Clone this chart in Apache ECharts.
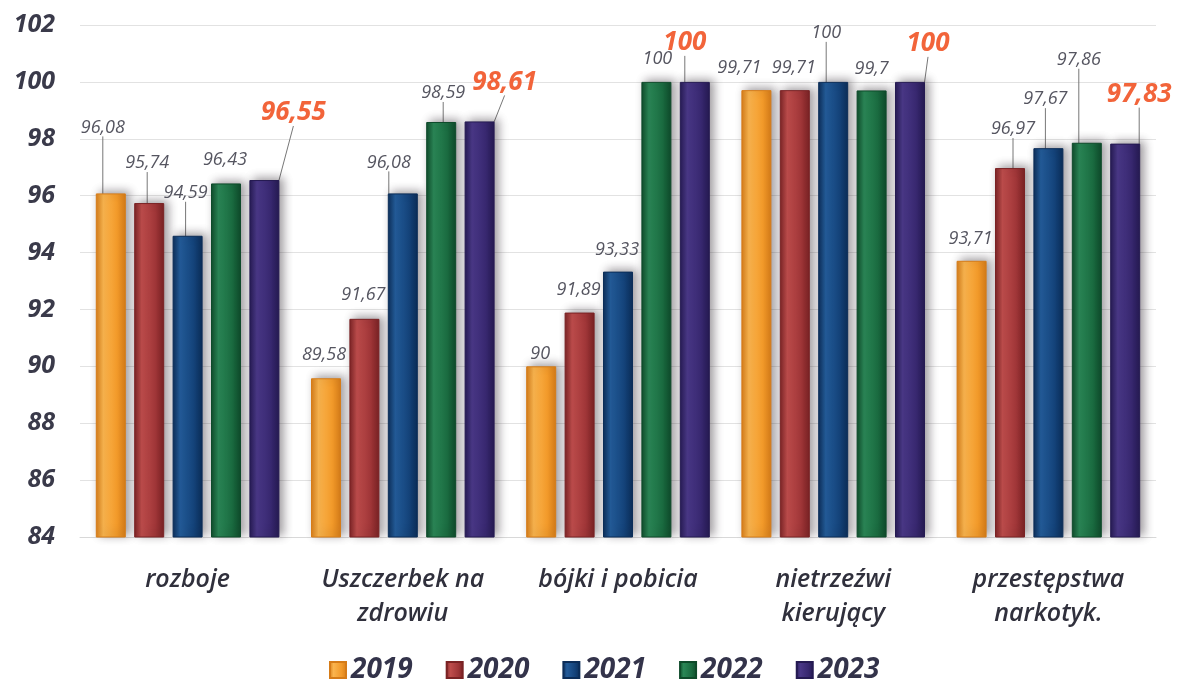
<!DOCTYPE html>
<html><head><meta charset="utf-8">
<script src="https://cdn.jsdelivr.net/npm/echarts@6/dist/echarts.min.js"></script>
<style>html,body{margin:0;padding:0;background:#fff}#c{width:1181px;height:687px}</style>
</head><body><div id="c"></div>
<script>
const categories = ['rozboje', 'Uszczerbek na\nzdrowiu', 'bójki i pobicia', 'nietrzeźwi\nkierujący', 'przestępstwa\nnarkotyk.'];
const years = ['2019', '2020', '2021', '2022', '2023'];
const v2019 = [96.08, 89.58, 90, 99.71, 93.71];
const v2020 = [95.74, 91.67, 91.89, 99.71, 96.97];
const v2021 = [94.59, 96.08, 93.33, 100, 97.67];
const v2022 = [96.43, 98.59, 100, 99.7, 97.86];
const v2023 = [96.55, 98.61, 100, 100, 97.83];
const yTicks = [84, 86, 88, 90, 92, 94, 96, 98, 100, 102];

// label placement (styling only)
const labelDx = [
  [-8, -2, -1, -17, -1],
  [-2, -1, -1, -1, 3],
  [-2, -14, -1, -7, -3],
  [-1, 2, 1, 0, -8],
  [29, 25, -10, 18, 14]
];
const labelDy = [
  [-52, -9, 2, -8, -8],
  [-26, -10, -9, -8, -25],
  [-29, -17, -8, -35, -35],
  [-10, -15, -9, -8, -69],
  [-49, -21, -21, -20, -31]
];
const showLine = [
  [1, 0, 0, 0, 0],
  [1, 0, 0, 0, 1],
  [1, 1, 0, 1, 1],
  [0, 1, 0, 0, 1],
  [1, 1, 1, 1, 1]
];
const baseColors = [
  ['#d67c18', '#fbb54e', '#f29a2a'],
  ['#7a2224', '#bf4d4c', '#a03638'],
  ['#0b2d58', '#235c9a', '#14437a'],
  ['#0e4a2a', '#2a8756', '#1a6b40'],
  ['#251a52', '#4a3888', '#382870']
];
const allVals = [v2019, v2020, v2021, v2022, v2023];
const fmt = v => String(v).replace('.', ',');

const series = years.map((y, si) => {
  const c = baseColors[si];
  const isLast = si === 4;
  return {
    name: y,
    type: 'bar',
    barWidth: 30,
    barGap: '28%',
    data: allVals[si].map((v, ci) => ({ value: v, labelLine: { show: !!showLine[si][ci] } })),
    itemStyle: {
      color: new echarts.graphic.LinearGradient(0, 0, 1, 0, [
        { offset: 0, color: c[0] },
        { offset: 0.25, color: c[1] },
        { offset: 0.7, color: c[2] },
        { offset: 1, color: c[0] }
      ]),
      borderColor: c[0],
      borderWidth: 1,
      shadowBlur: 10,
      shadowColor: 'rgba(40,30,40,0.45)',
      shadowOffsetX: 4,
      shadowOffsetY: -2
    },
    label: {
      show: true,
      position: 'top',
      distance: 5,
      formatter: p => fmt(p.value),
      fontFamily: 'Open Sans',
      fontStyle: 'italic',
      fontWeight: isLast ? 'bold' : 'normal',
      fontSize: isLast ? 26 : 18,
      color: isLast ? '#f2643a' : '#555560'
    },
    labelLine: { show: true, lineStyle: { color: '#777', width: 1 } },
    labelLayout: p => ({ dx: labelDx[si][p.dataIndex], dy: labelDy[si][p.dataIndex] })
  };
});

const chart = echarts.init(document.getElementById('c'), null, { renderer: 'canvas' });
chart.setOption({
  backgroundColor: '#fff',
  animation: false,
  grid: { left: 80, right: 25, top: 25, bottom: 150 },
  legend: {
    data: years,
    top: 651,
    left: 324,
    icon: 'rect',
    itemWidth: 16,
    itemHeight: 16,
    itemGap: 33,
    textStyle: { fontFamily: 'Open Sans', fontStyle: 'italic', fontWeight: 'bold', fontSize: 28, color: '#33334a' }
  },
  xAxis: {
    type: 'category',
    data: categories,
    axisLine: { show: true, lineStyle: { color: '#d8d8d8' } },
    axisTick: { show: false },
    axisLabel: {
      margin: 26,
      fontFamily: 'Open Sans',
      fontStyle: 'italic',
      fontWeight: 600,
      fontSize: 25,
      lineHeight: 34,
      color: '#30303c'
    }
  },
  yAxis: {
    type: 'value',
    min: yTicks[0],
    max: yTicks[yTicks.length - 1],
    interval: 2,
    axisLine: { show: false },
    axisTick: { show: false },
    splitLine: { lineStyle: { color: '#e2e2e2' } },
    axisLabel: {
      margin: 25,
      fontFamily: 'Open Sans',
      fontStyle: 'italic',
      fontWeight: 'bold',
      fontSize: 25,
      color: '#3a3a4a'
    }
  },
  series: series
});
</script></body></html>
